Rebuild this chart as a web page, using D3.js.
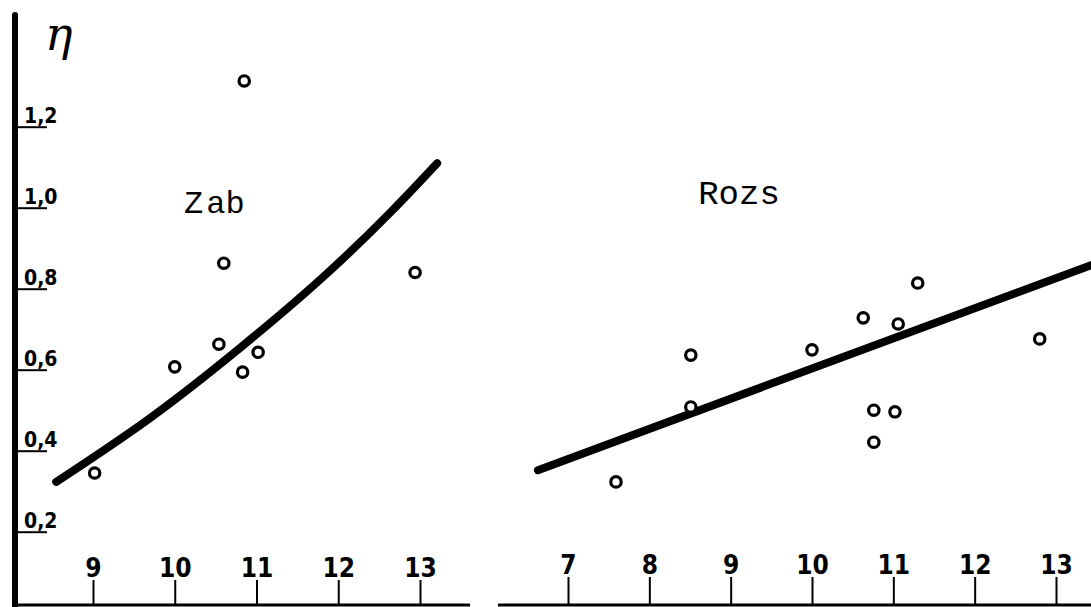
<!DOCTYPE html>
<html>
<head>
<meta charset="utf-8">
<script src="https://cdn.jsdelivr.net/npm/d3@7"></script>
<style>
  html, body { margin: 0; padding: 0; background: #fff; }
  svg { display: block; }
</style>
</head>
<body>
<svg id="chart" width="1091" height="607"></svg>
<script>
// ---- data ----
const etaTicks = [0.2, 0.4, 0.6, 0.8, 1.0, 1.2];
const zabTicks = [9, 10, 11, 12, 13];
const rozsTicks = [7, 8, 9, 10, 11, 12, 13];

const zabX   = [9.02, 10.00, 10.54, 10.60, 10.85, 10.83, 11.02, 12.94];
const zabEta = [0.345, 0.607, 0.663, 0.863, 1.313, 0.594, 0.643, 0.840];
const zabCurveX   = [8.55, 9.70, 10.80, 11.81, 12.63, 13.21];
const zabCurveEta = [0.323, 0.481, 0.654, 0.828, 0.987, 1.11];

const rozsX   = [7.59, 8.51, 8.51, 10.00, 10.63, 11.06, 11.30, 10.76, 11.02, 10.76, 12.80];
const rozsEta = [0.323, 0.636, 0.508, 0.649, 0.728, 0.713, 0.814, 0.500, 0.496, 0.421, 0.676];
const rozsLineX   = [6.63, 13.43];
const rozsLineEta = [0.352, 0.858];

// ---- layout ----
const svg = d3.select("#chart");
const baseY = 605;
const axisX = 15;

const y = d3.scaleLinear().domain([0, 1.5]).range([612.7, 5.2]);
const xL = d3.scaleLinear().domain([9, 13]).range([93, 420]);
const xR = d3.scaleLinear().domain([7, 13]).range([568, 1056]);

const tickFont = "'DejaVu Sans Condensed', 'DejaVu Sans', sans-serif";
const typeFont = "'Liberation Mono', 'DejaVu Sans Mono', monospace";

// vertical eta axis
svg.append("line")
  .attr("x1", axisX).attr("x2", axisX)
  .attr("y1", 15).attr("y2", 607)
  .attr("stroke", "#000").attr("stroke-width", 6).attr("stroke-linecap", "round");

const yAxis = svg.append("g")
  .attr("transform", `translate(${axisX},0)`)
  .call(d3.axisRight(y).tickValues(etaTicks).tickSize(32).tickPadding(0)
        .tickFormat(d => d3.format(".1f")(d).replace(".", ",")));
yAxis.select(".domain").remove();
yAxis.selectAll(".tick line").attr("stroke", "#000").attr("stroke-width", 2);
yAxis.selectAll(".tick text")
  .attr("x", 9).attr("dy", "-4")
  .attr("text-anchor", "start")
  .attr("dominant-baseline", "auto")
  .style("font-family", tickFont).style("font-weight", "bold")
  .style("font-size", "21px").attr("fill", "#000");

// eta symbol
svg.append("text")
  .attr("x", 45).attr("y", 50)
  .style("font-family", "'DejaVu Serif', serif")
  .style("font-style", "italic")
  .style("font-size", "46px")
  .attr("fill", "#000")
  .text("η");

// bottom axes
function bottomAxis(scale, ticks, x0, x1, tickLen) {
  svg.append("line")
    .attr("x1", x0).attr("x2", x1)
    .attr("y1", baseY).attr("y2", baseY)
    .attr("stroke", "#000").attr("stroke-width", 3);
  const g = svg.append("g")
    .attr("transform", `translate(0,${baseY})`)
    .call(d3.axisTop(scale).tickValues(ticks).tickSizeInner(tickLen).tickSizeOuter(0).tickPadding(3)
          .tickFormat(d3.format("d")));
  g.select(".domain").remove();
  g.selectAll(".tick line").attr("stroke", "#000").attr("stroke-width", 2);
  g.selectAll(".tick text")
    .style("font-family", tickFont).style("font-weight", "bold")
    .style("font-size", "26px").attr("fill", "#000");
}
bottomAxis(xL, zabTicks, axisX, 470, 25);
bottomAxis(xR, rozsTicks, 498, 1091, 28);

// fitted curves
const zabCurve = zabCurveX.map((v, i) => [xL(v), y(zabCurveEta[i])]);
svg.append("path")
  .attr("d", d3.line().curve(d3.curveNatural)(zabCurve))
  .attr("fill", "none").attr("stroke", "#000")
  .attr("stroke-width", 8).attr("stroke-linecap", "round");

const rozsLine = rozsLineX.map((v, i) => [xR(v), y(rozsLineEta[i])]);
svg.append("path")
  .attr("d", d3.line()(rozsLine))
  .attr("fill", "none").attr("stroke", "#000")
  .attr("stroke-width", 8).attr("stroke-linecap", "round");

// points
function points(xs, etas, scale) {
  svg.append("g").selectAll("circle")
    .data(xs.map((v, i) => [v, etas[i]]))
    .join("circle")
    .attr("cx", d => scale(d[0]))
    .attr("cy", d => y(d[1]))
    .attr("r", 5.2)
    .attr("fill", "#fff")
    .attr("stroke", "#000")
    .attr("stroke-width", 3.2);
}
points(zabX, zabEta, xL);
points(rozsX, rozsEta, xR);

// panel labels
const zab = svg.append("text")
  .attr("x", 184).attr("y", 213)
  .style("font-family", typeFont).style("font-size", "32px")
  .attr("fill", "#000");
zab.append("tspan").text("Z");
zab.append("tspan").attr("dx", 3).text("ab");

svg.append("text")
  .attr("x", 739).attr("y", 204)
  .attr("text-anchor", "middle")
  .style("font-family", typeFont).style("font-size", "34px")
  .attr("fill", "#000")
  .text("Rozs");
</script>
</body>
</html>
